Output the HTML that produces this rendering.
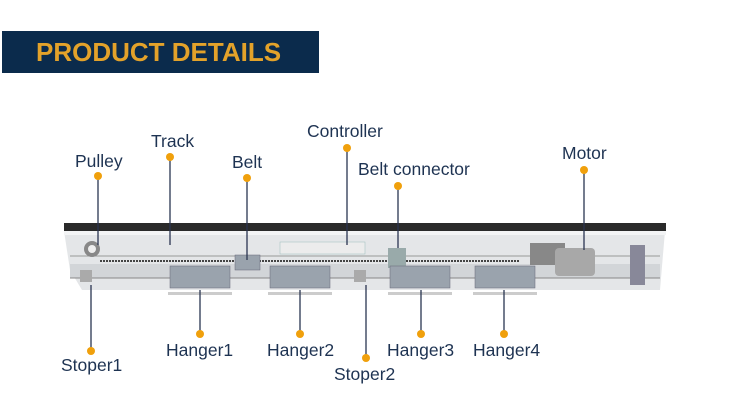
<!DOCTYPE html>
<html><head><meta charset="utf-8"><style>
body{margin:0;width:750px;height:418px;background:#fff;overflow:hidden;position:relative;font-family:"Liberation Sans",sans-serif}
.hd{position:absolute;left:2px;top:31px;width:317px;height:42px;background:#0b2b4c}
.hd span{position:absolute;left:34px;top:6px;font-size:26px;font-weight:bold;color:#e3a22a}
.l{position:absolute;font-size:17.5px;color:#1e3352;white-space:nowrap}
</style></head><body>
<div class="hd"><span>PRODUCT DETAILS</span></div>
<svg width="750" height="418" style="position:absolute;left:0;top:0">
<polygon points="64,231 665,231 660,290 82,290 70,270" fill="#e4e6e8"/>
<rect x="64" y="223" width="602" height="9" fill="#2a2a2a"/>
<rect x="64" y="231" width="602" height="4" fill="#f3f4f5"/>
<line x1="70" y1="256" x2="660" y2="256" stroke="#999" stroke-width="1"/>
<line x1="100" y1="261" x2="520" y2="261" stroke="#444" stroke-width="2" stroke-dasharray="2,1"/>
<rect x="70" y="264" width="590" height="14" fill="#d2d5d8"/>
<line x1="70" y1="278" x2="660" y2="278" stroke="#888"/>
<circle cx="92" cy="249" r="8" fill="#888"/><circle cx="92" cy="249" r="4" fill="#eee"/>
<rect x="280" y="242" width="85" height="12" fill="#ececec" stroke="#9bb" stroke-width="0.5"/>
<rect x="388" y="248" width="18" height="20" fill="#9aa"/>
<rect x="530" y="243" width="35" height="22" fill="#888"/>
<rect x="555" y="248" width="40" height="28" rx="4" fill="#a8a8a8"/>
<rect x="630" y="245" width="15" height="40" fill="#889"/>
<g fill="#9aa3ad" stroke="#667" stroke-width="0.5">
<rect x="170" y="266" width="60" height="22"/><rect x="270" y="266" width="60" height="22"/>
<rect x="390" y="266" width="60" height="22"/><rect x="475" y="266" width="60" height="22"/>
<rect x="235" y="255" width="25" height="15"/>
</g>
<g fill="#ccc"><rect x="168" y="292" width="64" height="3"/><rect x="268" y="292" width="64" height="3"/><rect x="388" y="292" width="64" height="3"/><rect x="473" y="292" width="64" height="3"/></g>
<rect x="80" y="270" width="12" height="12" fill="#aaa"/><rect x="354" y="270" width="12" height="12" fill="#aaa"/>
<g stroke="#2a3550" stroke-width="1.3">
<line x1="98" y1="176" x2="98" y2="245"/><line x1="170" y1="157" x2="170" y2="245"/>
<line x1="247" y1="178" x2="247" y2="260"/><line x1="347" y1="148" x2="347" y2="245"/>
<line x1="398" y1="186" x2="398" y2="248"/><line x1="584" y1="170" x2="584" y2="250"/>
<line x1="91" y1="285" x2="91" y2="350"/><line x1="200" y1="290" x2="200" y2="333"/>
<line x1="300" y1="290" x2="300" y2="333"/><line x1="366" y1="285" x2="366" y2="358"/>
<line x1="421" y1="290" x2="421" y2="333"/><line x1="504" y1="290" x2="504" y2="333"/>
</g>
<g fill="#f0a00c">
<circle cx="98" cy="176" r="4"/><circle cx="170" cy="157" r="4"/><circle cx="247" cy="178" r="4"/>
<circle cx="347" cy="148" r="4"/><circle cx="398" cy="186" r="4"/><circle cx="584" cy="170" r="4"/>
<circle cx="91" cy="351" r="4"/><circle cx="200" cy="334" r="4"/><circle cx="300" cy="334" r="4"/>
<circle cx="366" cy="358" r="4"/><circle cx="421" cy="334" r="4"/><circle cx="504" cy="334" r="4"/>
</g>
</svg>
<div class="l" style="left:75px;top:151px">Pulley</div>
<div class="l" style="left:151px;top:131px">Track</div>
<div class="l" style="left:232px;top:152px">Belt</div>
<div class="l" style="left:307px;top:121px">Controller</div>
<div class="l" style="left:358px;top:159px">Belt connector</div>
<div class="l" style="left:562px;top:143px">Motor</div>
<div class="l" style="left:61px;top:355px">Stoper1</div>
<div class="l" style="left:166px;top:340px">Hanger1</div>
<div class="l" style="left:267px;top:340px">Hanger2</div>
<div class="l" style="left:334px;top:364px">Stoper2</div>
<div class="l" style="left:387px;top:340px">Hanger3</div>
<div class="l" style="left:473px;top:340px">Hanger4</div>
</body></html>
